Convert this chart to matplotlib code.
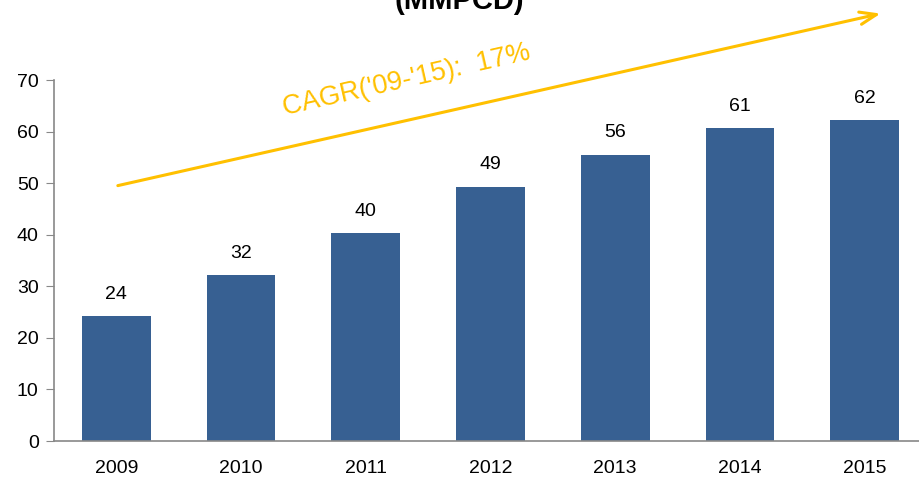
import matplotlib.pyplot as plt

years = ['2009', '2010', '2011', '2012', '2013', '2014', '2015']
values = [24.2, 32.2, 40.3, 49.3, 55.5, 60.7, 62.2]
labels = ['24', '32', '40', '49', '56', '61', '62']

plt.rcParams['font.family'] = ['Liberation Sans', 'DejaVu Sans']

fig = plt.figure(figsize=(9.19, 4.79), dpi=100)
ax = fig.add_axes([54 / 919, 38 / 479, 873 / 919, 361 / 479])

x = range(len(years))
ax.bar(x, values, width=0.55, color='#376092', zorder=2)

for i, (v, lab) in enumerate(zip(values, labels)):
    ax.text(i, v + 2.6, lab, ha='center', va='bottom', fontsize=14)

ax.set_xlim(-0.5, 6.5)
ax.set_ylim(0, 70)
ax.set_yticks(range(0, 71, 10))
ax.set_xticks(list(x))
ax.set_xticklabels(years)
ax.tick_params(axis='y', labelsize=14, length=6, color='#888888', pad=5)
ax.tick_params(axis='x', labelsize=14, length=0, pad=14)

for s in ['top', 'right']:
    ax.spines[s].set_visible(False)
for s in ['left', 'bottom']:
    ax.spines[s].set_color('#888888')
    ax.spines[s].set_linewidth(1.2)

# CAGR arrow
ax.annotate('', xy=(6.15, 83), xytext=(-0.01, 49.4),
            arrowprops=dict(arrowstyle='->,head_length=1.2,head_width=0.45',
                            color='#FFC000', lw=2.2),
            annotation_clip=False)
ax.text(2.33, 70.0, "CAGR('09-'15):  17%", color='#FFC000', fontsize=19.5,
        rotation=12.8, ha='center', va='center', rotation_mode='anchor')

fig.text(0.5, 1 - 1 / 479, '(MMPCD)', ha='center', va='center',
         fontsize=21, fontweight='bold')

fig.savefig('out.png', dpi=100)
